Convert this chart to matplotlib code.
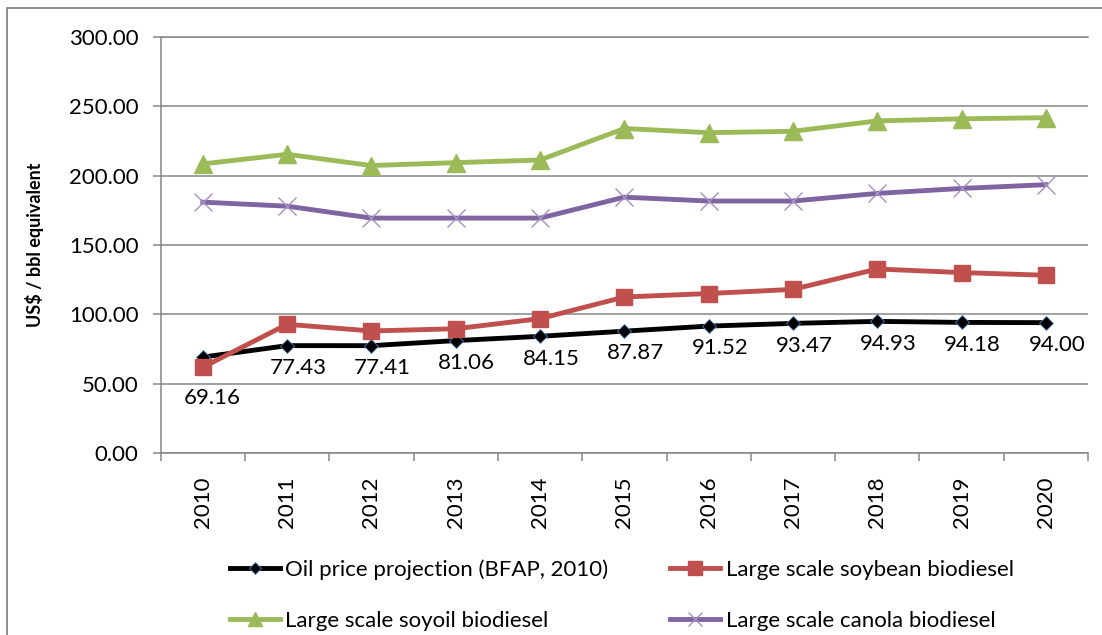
import numpy as np
import matplotlib.pyplot as plt
from matplotlib.patches import Rectangle

plt.rcParams['font.family'] = ['Lato', 'DejaVu Sans']

years = ['2010', '2011', '2012', '2013', '2014', '2015', '2016', '2017', '2018', '2019', '2020']
oil_price = [69.16, 77.43, 77.41, 81.06, 84.15, 87.87, 91.52, 93.47, 94.93, 94.18, 94.00]
soybean = [61.9, 92.8, 88.0, 89.6, 96.9, 112.5, 115.0, 118.0, 132.7, 130.1, 128.2]
soyoil = [208.5, 215.4, 207.3, 209.4, 211.3, 234.0, 231.0, 232.0, 239.5, 241.0, 241.8]
canola = [180.9, 178.0, 169.4, 169.4, 169.4, 184.5, 181.7, 181.7, 187.2, 190.8, 193.5]

grey = '#868686'

fig = plt.figure(figsize=(11.02, 6.35), dpi=100)
ax = fig.add_axes([160.7 / 1102, 1 - 453 / 635, (1088 - 160.7) / 1102, (453 - 37) / 635])

x = np.arange(len(years))
l_oil, = ax.plot(x, oil_price, color='black', lw=3.5, marker='D', ms=7.5,
                 mfc='black', mec='#4F81BD', mew=0.6, solid_joinstyle='round', zorder=3,
                 label='Oil price projection (BFAP, 2010)')
l_soyb, = ax.plot(x, soybean, color='#C0504D', lw=3.5, marker='s', ms=12,
                  mfc='#C0504D', mec='#C0504D', solid_joinstyle='round', zorder=4,
                  label='Large scale soybean biodiesel')
l_soyo, = ax.plot(x, soyoil, color='#9BBB59', lw=3.5, marker='^', ms=13,
                  mfc='#9BBB59', mec='#9BBB59', solid_joinstyle='round', zorder=5,
                  label='Large scale soyoil biodiesel')
l_can, = ax.plot(x, canola, color='#8064A2', lw=3.5, marker='x', ms=13,
                 mec='#A48FC4', mew=1.0, solid_joinstyle='round', zorder=6,
                 label='Large scale canola biodiesel')

# data labels for the oil price series (first one sits lower, under the red square)
for i, v in enumerate(oil_price):
    dy = -29.5 if i == 0 else -16
    dx = 6.5 if i == 0 else 8
    ax.annotate(f'{v:.2f}', (x[i], v), xytext=(dx, dy), textcoords='offset points',
                ha='center', va='center', fontsize=16, color='black', zorder=7)

ax.set_xlim(-0.5, len(years) - 0.5)
ax.set_ylim(0, 300)
ax.set_yticks(np.arange(0, 301, 50))
ax.set_yticklabels([f'{t:.2f}' for t in np.arange(0, 301, 50)])
ax.set_xticks(x)
ax.set_xticklabels(years, rotation=90)
ax.set_xticks(np.arange(-0.5, len(years), 1.0), minor=True)
ax.tick_params(axis='x', which='major', length=0, pad=17, labelsize=16)
ax.tick_params(axis='x', which='minor', length=6, width=1.1, color=grey, direction='out')
ax.tick_params(axis='y', length=6, width=1.1, color=grey, pad=10, labelsize=16)

ax.yaxis.grid(True, color=grey, lw=1.1)
ax.set_axisbelow(True)
ax.spines['right'].set_visible(False)
for s in ['left', 'top', 'bottom']:
    ax.spines[s].set_color(grey)
    ax.spines[s].set_linewidth(1.1)

fig.text(35 / 1102, 1 - 245 / 635, 'US$ / bbl equivalent', rotation=90,
         ha='center', va='center', fontsize=13, fontweight='bold')

fig.legend([l_oil, l_soyo, l_soyb, l_can],
           [l_oil.get_label(), l_soyo.get_label(), l_soyb.get_label(), l_can.get_label()],
           ncol=2, loc='upper left', bbox_to_anchor=(230 / 1102, 1 - 559 / 635),
           frameon=False, fontsize=16, handlelength=2.25, handletextpad=0.23,
           columnspacing=2.8, labelspacing=1.4, borderpad=0, borderaxespad=0,
           markerscale=0.8)

fig.patches.append(Rectangle((7 / 1102, -0.05), 1.0, 1 - 8 / 635 + 0.05,
                             transform=fig.transFigure, fill=False,
                             edgecolor=grey, lw=1.3))

plt.savefig('out.png', dpi=100)
